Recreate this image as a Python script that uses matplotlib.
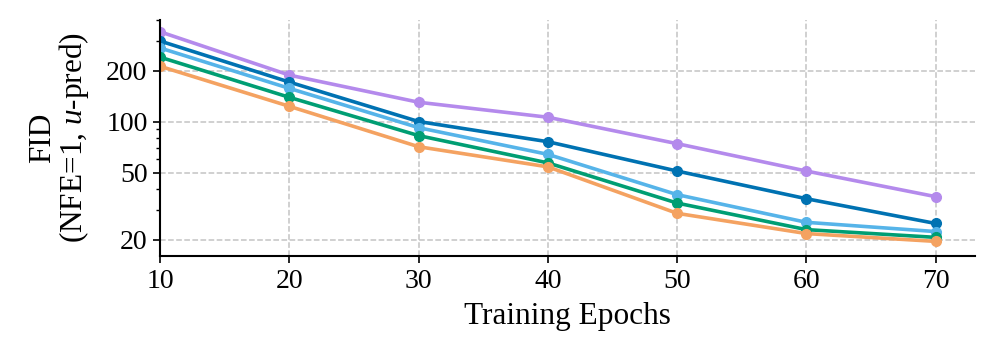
import matplotlib
matplotlib.use("Agg")
import matplotlib.pyplot as plt
from matplotlib.ticker import FixedLocator, NullFormatter, FixedFormatter, LogLocator

plt.rcParams['font.family'] = ['Liberation Serif', 'DejaVu Serif']
plt.rcParams['mathtext.fontset'] = 'custom'
plt.rcParams['mathtext.rm'] = 'Liberation Serif'
plt.rcParams['mathtext.it'] = 'Liberation Serif:italic'

epochs = [10, 20, 30, 40, 50, 60, 70]
purple = [339, 188, 130, 106, 74, 51, 36]
dark_blue = [299, 171, 100, 76, 51, 35, 25]
light_blue = [272, 157, 92, 64, 37, 25.4, 22.4]
green = [240, 139, 82.6, 57, 33, 23, 20.7]
orange = [212, 123, 71, 54, 28.7, 21.8, 19.6]

series = [
    (purple, '#B48AEC'),
    (dark_blue, '#0072B2'),
    (light_blue, '#56B4E9'),
    (green, '#009E73'),
    (orange, '#F4A261'),
]

yticks = [20, 50, 100, 200]
ytick_labels = ['20', '50', '100', '200']

fig = plt.figure(figsize=(9.97, 3.56), dpi=100)
ax = fig.add_axes([0.1605, 0.28, 0.817, 0.665])

for vals, c in series:
    ax.plot(epochs, vals, color=c, lw=2.6, marker='o', ms=7)

ax.set_yscale('log')
ax.set_xlim(10, 73)
ax.set_ylim(16, 400)
ax.yaxis.set_major_locator(FixedLocator(yticks))
ax.yaxis.set_major_formatter(FixedFormatter(ytick_labels))
ax.yaxis.set_minor_locator(LogLocator(base=10, subs=range(2, 10)))
ax.yaxis.set_minor_formatter(NullFormatter())
ax.set_xticks(epochs)

ax.grid(True, which='major', ls='--', color='#c4c4c4', lw=1.1)
ax.set_axisbelow(True)
for s in ['top', 'right']:
    ax.spines[s].set_visible(False)
for s in ['left', 'bottom']:
    ax.spines[s].set_linewidth(1.5)
ax.tick_params(axis='both', which='major', labelsize=20, length=5, width=1.2, pad=4)
ax.tick_params(axis='y', which='minor', length=3, width=1.0)

ax.set_xlabel('Training Epochs', fontsize=22.5, labelpad=6)
ax.set_ylabel('FID\n(NFE=1, $u$-pred)', fontsize=22.5, linespacing=1.0, labelpad=11)

fig.savefig('out.png', dpi=100)
